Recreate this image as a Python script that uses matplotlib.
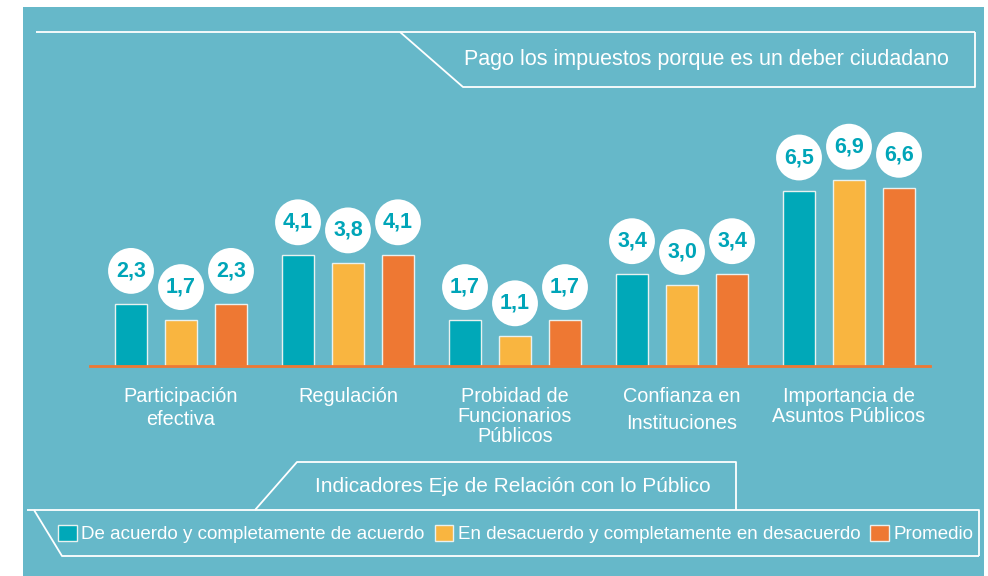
import matplotlib
matplotlib.use("Agg")
import matplotlib.pyplot as plt
import matplotlib.transforms as mtransforms
from matplotlib.patches import Rectangle
import numpy as np

plt.rcParams["font.family"] = ["Liberation Sans", "DejaVu Sans"]

# --- data -------------------------------------------------------------------
categories = [
    "Participación\nefectiva",
    "Regulación",
    "Probidad de\nFuncionarios\nPúblicos",
    "Confianza en\nInstituciones",
    "Importancia de\nAsuntos Públicos",
]
de_acuerdo = [2.3, 4.1, 1.7, 3.4, 6.5]
desacuerdo = [1.7, 3.8, 1.1, 3.0, 6.9]
promedio = [2.3, 4.1, 1.7, 3.4, 6.6]
series_names = [
    "De acuerdo y completamente de acuerdo",
    "En desacuerdo y completamente en desacuerdo",
    "Promedio",
]
title = "Pago los impuestos porque es un deber ciudadano"
subtitle = "Indicadores Eje de Relación con lo Público"

BG = "#66b8c9"
COLORS = ["#00a8b8", "#f9b540", "#ee7833"]
LABEL_TEAL = "#00a5b8"
label_spacing = [1.25, 1.2, 1.05, 1.55, 1.05]

W, H = 988, 576
fig = plt.figure(figsize=(W / 100, H / 100), dpi=100, facecolor="white")

# decoration layer in pixel coordinates
deco = fig.add_axes([0, 0, 1, 1], zorder=0)
deco.set_xlim(0, W)
deco.set_ylim(H, 0)
deco.axis("off")
deco.add_patch(Rectangle((23, 7), 961, 569, facecolor=BG, edgecolor="none"))

line_kw = dict(color="white", lw=1.3, solid_capstyle="butt")
# title box
deco.plot([36, 975], [32, 32], **line_kw)
deco.plot([400, 463, 975, 975], [32, 87, 87, 32], **line_kw)
deco.text(464, 60, title, color="white", fontsize=15.5, va="center", ha="left")
# subtitle box
deco.plot([255, 297, 736, 736], [510, 462, 462, 510], **line_kw)
deco.text(513, 487, subtitle, color="white", fontsize=15, va="center", ha="center")
# legend box
deco.plot([27, 979, 979], [510, 510, 556], **line_kw)
deco.plot([34, 62, 979], [510, 556, 556], **line_kw)

# --- bars -------------------------------------------------------------------
ax = fig.add_axes([90 / W, (H - 366) / H, 840 / W, 216 / H], zorder=2)
ax.patch.set_alpha(0)
x = np.arange(len(categories))
offset = 50 / 167
width = 32 / 167

circle_tr = mtransforms.offset_copy(ax.transData, fig=fig, y=33, units="dots")
handles = []
for k, (vals, col) in enumerate(zip([de_acuerdo, desacuerdo, promedio], COLORS)):
    xs = x + (k - 1) * offset
    bars = ax.bar(xs, vals, width=width, color=col, edgecolor="#e9f1ef",
                  linewidth=1.0, label=series_names[k], zorder=2)
    handles.append(bars)
    ax.scatter(xs, vals, s=1090, color="white", edgecolors="none",
               transform=circle_tr, zorder=3, clip_on=False)
    for xi, v in zip(xs, vals):
        ax.text(xi, v, f"{v:.1f}".replace(".", ","), transform=circle_tr,
                ha="center", va="center", fontsize=15.5, fontweight="bold",
                color=LABEL_TEAL, zorder=4)

ax.set_xlim(-91 / 167, 749 / 167)
ax.set_ylim(0, 8)
for side in ["top", "right", "left"]:
    ax.spines[side].set_visible(False)
ax.spines["bottom"].set_color(COLORS[2])
ax.spines["bottom"].set_linewidth(2.0)
ax.spines["bottom"].set_zorder(5)
ax.set_yticks([])
ax.set_xticks([])

label_tr = mtransforms.offset_copy(ax.transData, fig=fig, y=-21, units="dots")
for xi, cat, ls in zip(x, categories, label_spacing):
    ax.text(xi, 0, cat, transform=label_tr, ha="center", va="top",
            fontsize=14.3, color="white", linespacing=ls, multialignment="center")

leg = fig.legend(handles, series_names, loc="center left",
                 bbox_to_anchor=(58 / W, 1 - 534 / H), ncol=3, frameon=False,
                 fontsize=13.5, handlelength=1.0, handleheight=1.0,
                 handletextpad=0.25, columnspacing=0.52, borderpad=0,
                 borderaxespad=0)
for t in leg.get_texts():
    t.set_color("white")

fig.savefig("out.png", dpi=100, facecolor="white")
